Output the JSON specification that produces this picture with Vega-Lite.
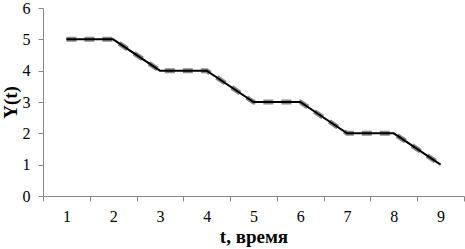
{
  "$schema": "https://vega.github.io/schema/vega-lite/v6.json",
  "width": 421,
  "height": 188,
  "autosize": {"type": "none"},
  "padding": {"left": 43, "top": 8, "right": 1, "bottom": 53},
  "background": "white",
  "config": {
    "view": {"stroke": null},
    "axis": {
      "grid": false,
      "domainColor": "#888888",
      "tickColor": "#888888",
      "labelColor": "#000000",
      "titleFontWeight": "bold",
      "titleColor": "#000000",
      "labelOverlap": false
    }
  },
  "data": {
    "values": [
      {"t": 1, "y": 5, "s": "model"}, {"t": 2, "y": 5, "s": "model"}, {"t": 3, "y": 4, "s": "model"},
      {"t": 4, "y": 4, "s": "model"}, {"t": 5, "y": 3, "s": "model"}, {"t": 6, "y": 3, "s": "model"},
      {"t": 7, "y": 2, "s": "model"}, {"t": 8, "y": 2, "s": "model"}, {"t": 9, "y": 1, "s": "model"},
      {"t": 1, "y": 5, "s": "real"}, {"t": 2, "y": 5, "s": "real"}, {"t": 3, "y": 4, "s": "real"},
      {"t": 4, "y": 4, "s": "real"}, {"t": 5, "y": 3, "s": "real"}, {"t": 6, "y": 3, "s": "real"},
      {"t": 7, "y": 2, "s": "real"}, {"t": 8, "y": 2, "s": "real"}, {"t": 9, "y": 1, "s": "real"}
    ]
  },
  "encoding": {
    "x": {
      "field": "t", "type": "ordinal", "bandPosition": 0.5,
      "scale": {"type": "band", "paddingInner": 0, "paddingOuter": 0},
      "axis": {"title": "t, время", "labelAngle": 0, "tickBand": "extent", "tickSize": 5, "labelPadding": 7, "titlePadding": 3,
        "labelFont": "Liberation Serif", "titleFont": "Liberation Serif", "labelFontSize": 16, "titleFontSize": 19}
    },
    "y": {
      "field": "y", "type": "quantitative",
      "scale": {"domain": [0, 6]},
      "axis": {"title": "Y(t)", "values": [0,1,2,3,4,5,6], "tickSize": 5, "labelPadding": 8, "titlePadding": 2, "labelFlush": false,
        "labelFont": "Liberation Serif", "titleFont": "Liberation Serif", "labelFontSize": 16, "titleFontSize": 19}
    }
  },
  "layer": [
    {
      "transform": [{"filter": "datum.s === 'real'"}],
      "mark": {"type": "line", "color": "#8a8a8a", "strokeWidth": 5, "strokeDash": [10, 8]}
    },
    {
      "transform": [{"filter": "datum.s === 'model'"}],
      "mark": {"type": "line", "color": "#000000", "strokeWidth": 2}
    }
  ]
}
